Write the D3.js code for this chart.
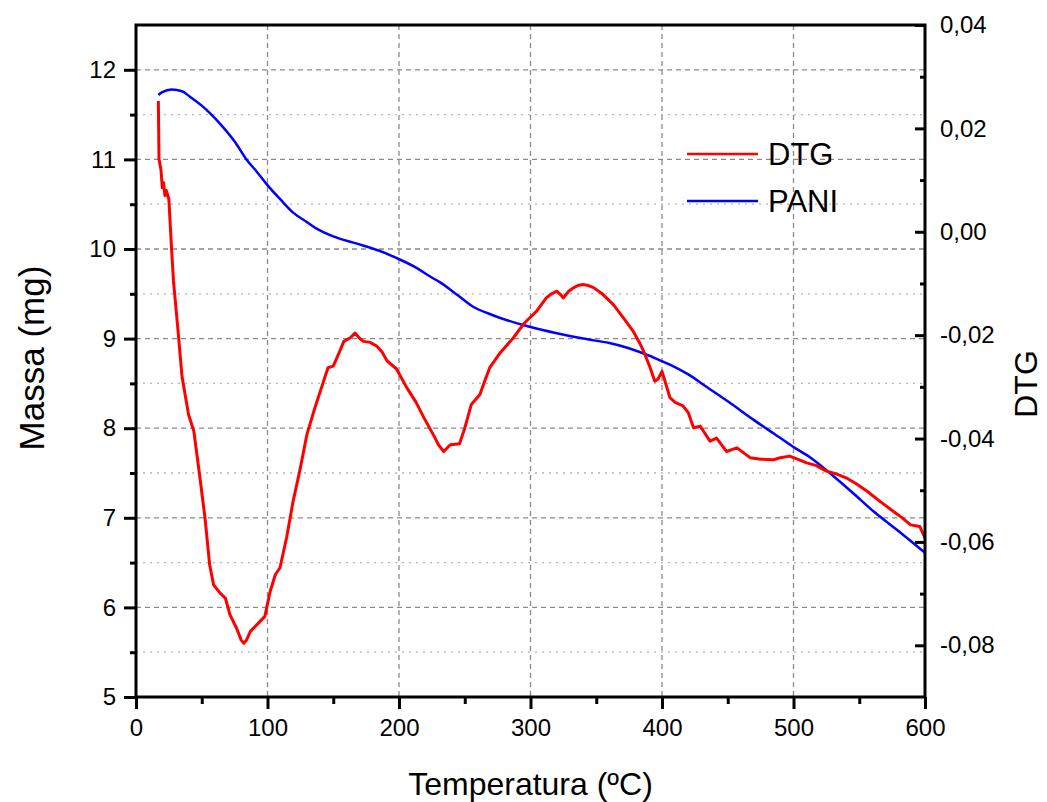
<!DOCTYPE html>
<html>
<head>
<meta charset="utf-8">
<script src="https://cdn.jsdelivr.net/npm/d3@7"></script>
<style>
  body { margin: 0; background: #fff; }
  svg { font-family: Arial, "Liberation Sans", sans-serif; }
</style>
</head>
<body>
<div id="vis-container"></div>
<script>
// PANI mass curve (left axis, mg)
const paniTemp = [17, 20, 27, 35, 41, 50, 56, 65, 75, 84, 92, 99, 110, 120, 130, 137, 150, 168, 185, 198,
  212, 224, 231, 245, 257, 268, 277, 290, 300, 320, 340, 360, 373, 383, 395, 406, 420, 434, 450, 470,
  485, 500, 513, 530, 545, 561, 580, 600]
const paniMass = [11.72, 11.75, 11.78, 11.76, 11.70, 11.60, 11.52, 11.38, 11.20, 11.00, 10.86, 10.73, 10.55, 10.40, 10.30, 10.23, 10.14, 10.06, 9.98, 9.90,
  9.80, 9.69, 9.63, 9.48, 9.35, 9.28, 9.23, 9.17, 9.13, 9.06, 9.00, 8.95, 8.90, 8.85, 8.78, 8.71, 8.60, 8.46, 8.30, 8.09,
  7.94, 7.79, 7.67, 7.47, 7.28, 7.07, 6.85, 6.61]

// DTG curve (right axis)
const dtgTemp = [17, 17.5, 19, 20, 21, 22, 23, 25, 27, 28.5, 32, 35, 36, 40, 44, 49, 52.5, 56, 59, 64,
  68, 71.5, 76.5, 80, 82, 84, 87, 92, 98, 102, 106, 109.5, 114.5, 119.5, 124.5, 130, 136, 141, 146, 150,
  155, 158, 163, 166.5, 170, 173, 178, 183, 187, 191, 198, 206, 213, 219, 226, 230, 234, 239, 246, 250,
  255, 261.5, 265, 269, 277, 287, 294.5, 300, 304.5, 312, 316, 320, 323, 325, 329, 333, 336, 340, 344, 348,
  355, 363, 370.5, 378, 383, 386, 391, 394.5, 397, 400, 403, 406, 410, 416, 420, 424, 429, 436.5, 441.5, 449,
  457, 467, 475, 485, 490, 497, 503, 510, 517, 525, 532, 540, 548, 556, 566, 576, 582, 589, 596, 600]
const dtgValue = [0.0253, 0.0140, 0.0120, 0.0085, 0.0095, 0.0070, 0.0080, 0.0063, -0.0031, -0.0095, -0.0192, -0.0280, -0.0295, -0.0354, -0.0386, -0.0483, -0.0554, -0.0644, -0.0683, -0.0699,
  -0.0709, -0.0741, -0.0767, -0.0790, -0.0796, -0.0790, -0.0773, -0.0760, -0.0744, -0.0696, -0.0663, -0.0650, -0.0592, -0.0521, -0.0463, -0.0392, -0.0341, -0.0302, -0.0263, -0.0260,
  -0.0231, -0.0212, -0.0205, -0.0196, -0.0206, -0.0212, -0.0214, -0.0221, -0.0232, -0.0250, -0.0265, -0.0302, -0.0330, -0.0360, -0.0392, -0.0412, -0.0425, -0.0412, -0.0410, -0.0380,
  -0.0334, -0.0315, -0.0290, -0.0263, -0.0234, -0.0205, -0.0179, -0.0165, -0.0154, -0.0128, -0.0120, -0.0115, -0.0122, -0.0128, -0.0115, -0.0108, -0.0104, -0.0102, -0.0104, -0.0108,
  -0.0121, -0.0141, -0.0166, -0.0192, -0.0215, -0.0231, -0.0263, -0.0289, -0.0285, -0.0270, -0.0295, -0.0321, -0.0330, -0.0337, -0.0350, -0.0379, -0.0376, -0.0405, -0.0399, -0.0425,
  -0.0418, -0.0437, -0.0440, -0.0441, -0.0437, -0.0434, -0.0440, -0.0447, -0.0452, -0.0463, -0.0468, -0.0476, -0.0488, -0.0502, -0.0522, -0.0541, -0.0552, -0.0567, -0.0570, -0.0592]

const xTicks = [0, 100, 200, 300, 400, 500, 600]
const xMinor = [50, 150, 250, 350, 450, 550]
const leftTicks = [5, 6, 7, 8, 9, 10, 11, 12]
const leftMinor = [5.5, 6.5, 7.5, 8.5, 9.5, 10.5, 11.5]
const rightTicks = [0.04, 0.02, 0, -0.02, -0.04, -0.06, -0.08]
const rightMinor = [0.03, 0.01, -0.01, -0.03, -0.05, -0.07]
const legendItems = [{ name: 'DTG', color: '#ff0000' }, { name: 'PANI', color: '#0000ff' }]

const width = 1047, height = 802
const margin = { top: 25, right: 122, bottom: 105, left: 136 }
const w = width - margin.left - margin.right
const h = height - margin.top - margin.bottom

const svg = d3.select('#vis-container').append('svg')
  .attr('width', width)
  .attr('height', height)

const g = svg.append('g').attr('transform', 'translate(' + margin.left + ',' + margin.top + ')')

const x = d3.scaleLinear().domain([0, 600]).range([0, w])
const yLeft = d3.scaleLinear().domain([5, 12.5]).range([h, 0])
const yRight = d3.scaleLinear().domain([-0.09, 0.04]).range([h, 0])

// grid
g.append('g').selectAll('line').data(leftMinor).join('line')
  .attr('x1', 0).attr('x2', w)
  .attr('y1', d => yLeft(d)).attr('y2', d => yLeft(d))
  .attr('stroke', '#b5b5b5').attr('stroke-width', 1.3).attr('stroke-dasharray', '2,5')
g.append('g').selectAll('line').data(leftTicks.slice(1)).join('line')
  .attr('x1', 0).attr('x2', w)
  .attr('y1', d => yLeft(d)).attr('y2', d => yLeft(d))
  .attr('stroke', '#8a8a8a').attr('stroke-width', 1.3).attr('stroke-dasharray', '5,4')
g.append('g').selectAll('line').data(xTicks.slice(1, -1)).join('line')
  .attr('x1', d => x(d)).attr('x2', d => x(d))
  .attr('y1', 0).attr('y2', h)
  .attr('stroke', '#8a8a8a').attr('stroke-width', 1.3).attr('stroke-dasharray', '5,4')

// curves
const paniLine = d3.line()
  .x(d => x(d[0])).y(d => yLeft(d[1]))
  .curve(d3.curveMonotoneX)
g.append('path')
  .datum(d3.zip(paniTemp, paniMass))
  .attr('d', paniLine)
  .attr('fill', 'none').attr('stroke', '#0000ff').attr('stroke-width', 2.5)

const dtgLine = d3.line()
  .x(d => x(d[0])).y(d => yRight(d[1]))
g.append('path')
  .datum(d3.zip(dtgTemp, dtgValue))
  .attr('d', dtgLine)
  .attr('fill', 'none').attr('stroke', '#ff0000').attr('stroke-width', 3)
  .attr('stroke-linejoin', 'round')

// axes
const commaFmt = function(d) {
  const s = d3.format('.2f')(Math.abs(d)).replace('.', ',')
  return (d < 0 ? '-' : '') + s
}

g.append('g').attr('transform', 'translate(0,' + h + ')')
  .call(d3.axisBottom(x).tickValues(xTicks).tickSize(12).tickSizeOuter(0).tickPadding(10))
g.append('g').attr('transform', 'translate(0,' + h + ')')
  .call(d3.axisBottom(x).tickValues(xMinor).tickSize(7).tickFormat(''))

g.append('g')
  .call(d3.axisLeft(yLeft).tickValues(leftTicks).tickSize(12).tickSizeOuter(0).tickPadding(8))
g.append('g')
  .call(d3.axisLeft(yLeft).tickValues(leftMinor).tickSize(6).tickFormat(''))

const rightAxis = g.append('g').attr('transform', 'translate(' + w + ',0)')
  .call(d3.axisLeft(yRight).tickValues(rightTicks).tickSize(10).tickSizeOuter(0).tickFormat(commaFmt))
g.append('g').attr('transform', 'translate(' + w + ',0)')
  .call(d3.axisLeft(yRight).tickValues(rightMinor).tickSize(5).tickFormat(''))
rightAxis.selectAll('text')
  .attr('text-anchor', 'start')
  .attr('x', 15)

g.selectAll('.domain').remove()
g.selectAll('.tick line').attr('stroke', '#000').attr('stroke-width', 3)
g.selectAll('.tick text').attr('font-size', 24).attr('fill', '#000')

// frame
g.append('rect')
  .attr('width', w).attr('height', h)
  .attr('fill', 'none').attr('stroke', '#000').attr('stroke-width', 3)

// titles
svg.append('text')
  .attr('x', margin.left + w / 2).attr('y', 795)
  .attr('text-anchor', 'middle').attr('font-size', 32)
  .text('Temperatura (ºC)')
svg.append('text')
  .attr('transform', 'translate(44,' + 358 + ') rotate(-90)')
  .attr('text-anchor', 'middle').attr('font-size', 35)
  .text('Massa (mg)')
svg.append('text')
  .attr('transform', 'translate(1037,' + 384 + ') rotate(-90)')
  .attr('text-anchor', 'middle').attr('font-size', 32)
  .text('DTG')

// legend
const legend = svg.append('g').attr('transform', 'translate(687,154)')
legendItems.forEach(function(item, i) {
  legend.append('line')
    .attr('x1', 0).attr('x2', 71)
    .attr('y1', i * 47).attr('y2', i * 47)
    .attr('stroke', item.color).attr('stroke-width', 2.5)
  legend.append('text')
    .attr('x', 81).attr('y', i * 47 + 11)
    .attr('font-size', 31)
    .text(item.name)
})
</script>
</body>
</html>
